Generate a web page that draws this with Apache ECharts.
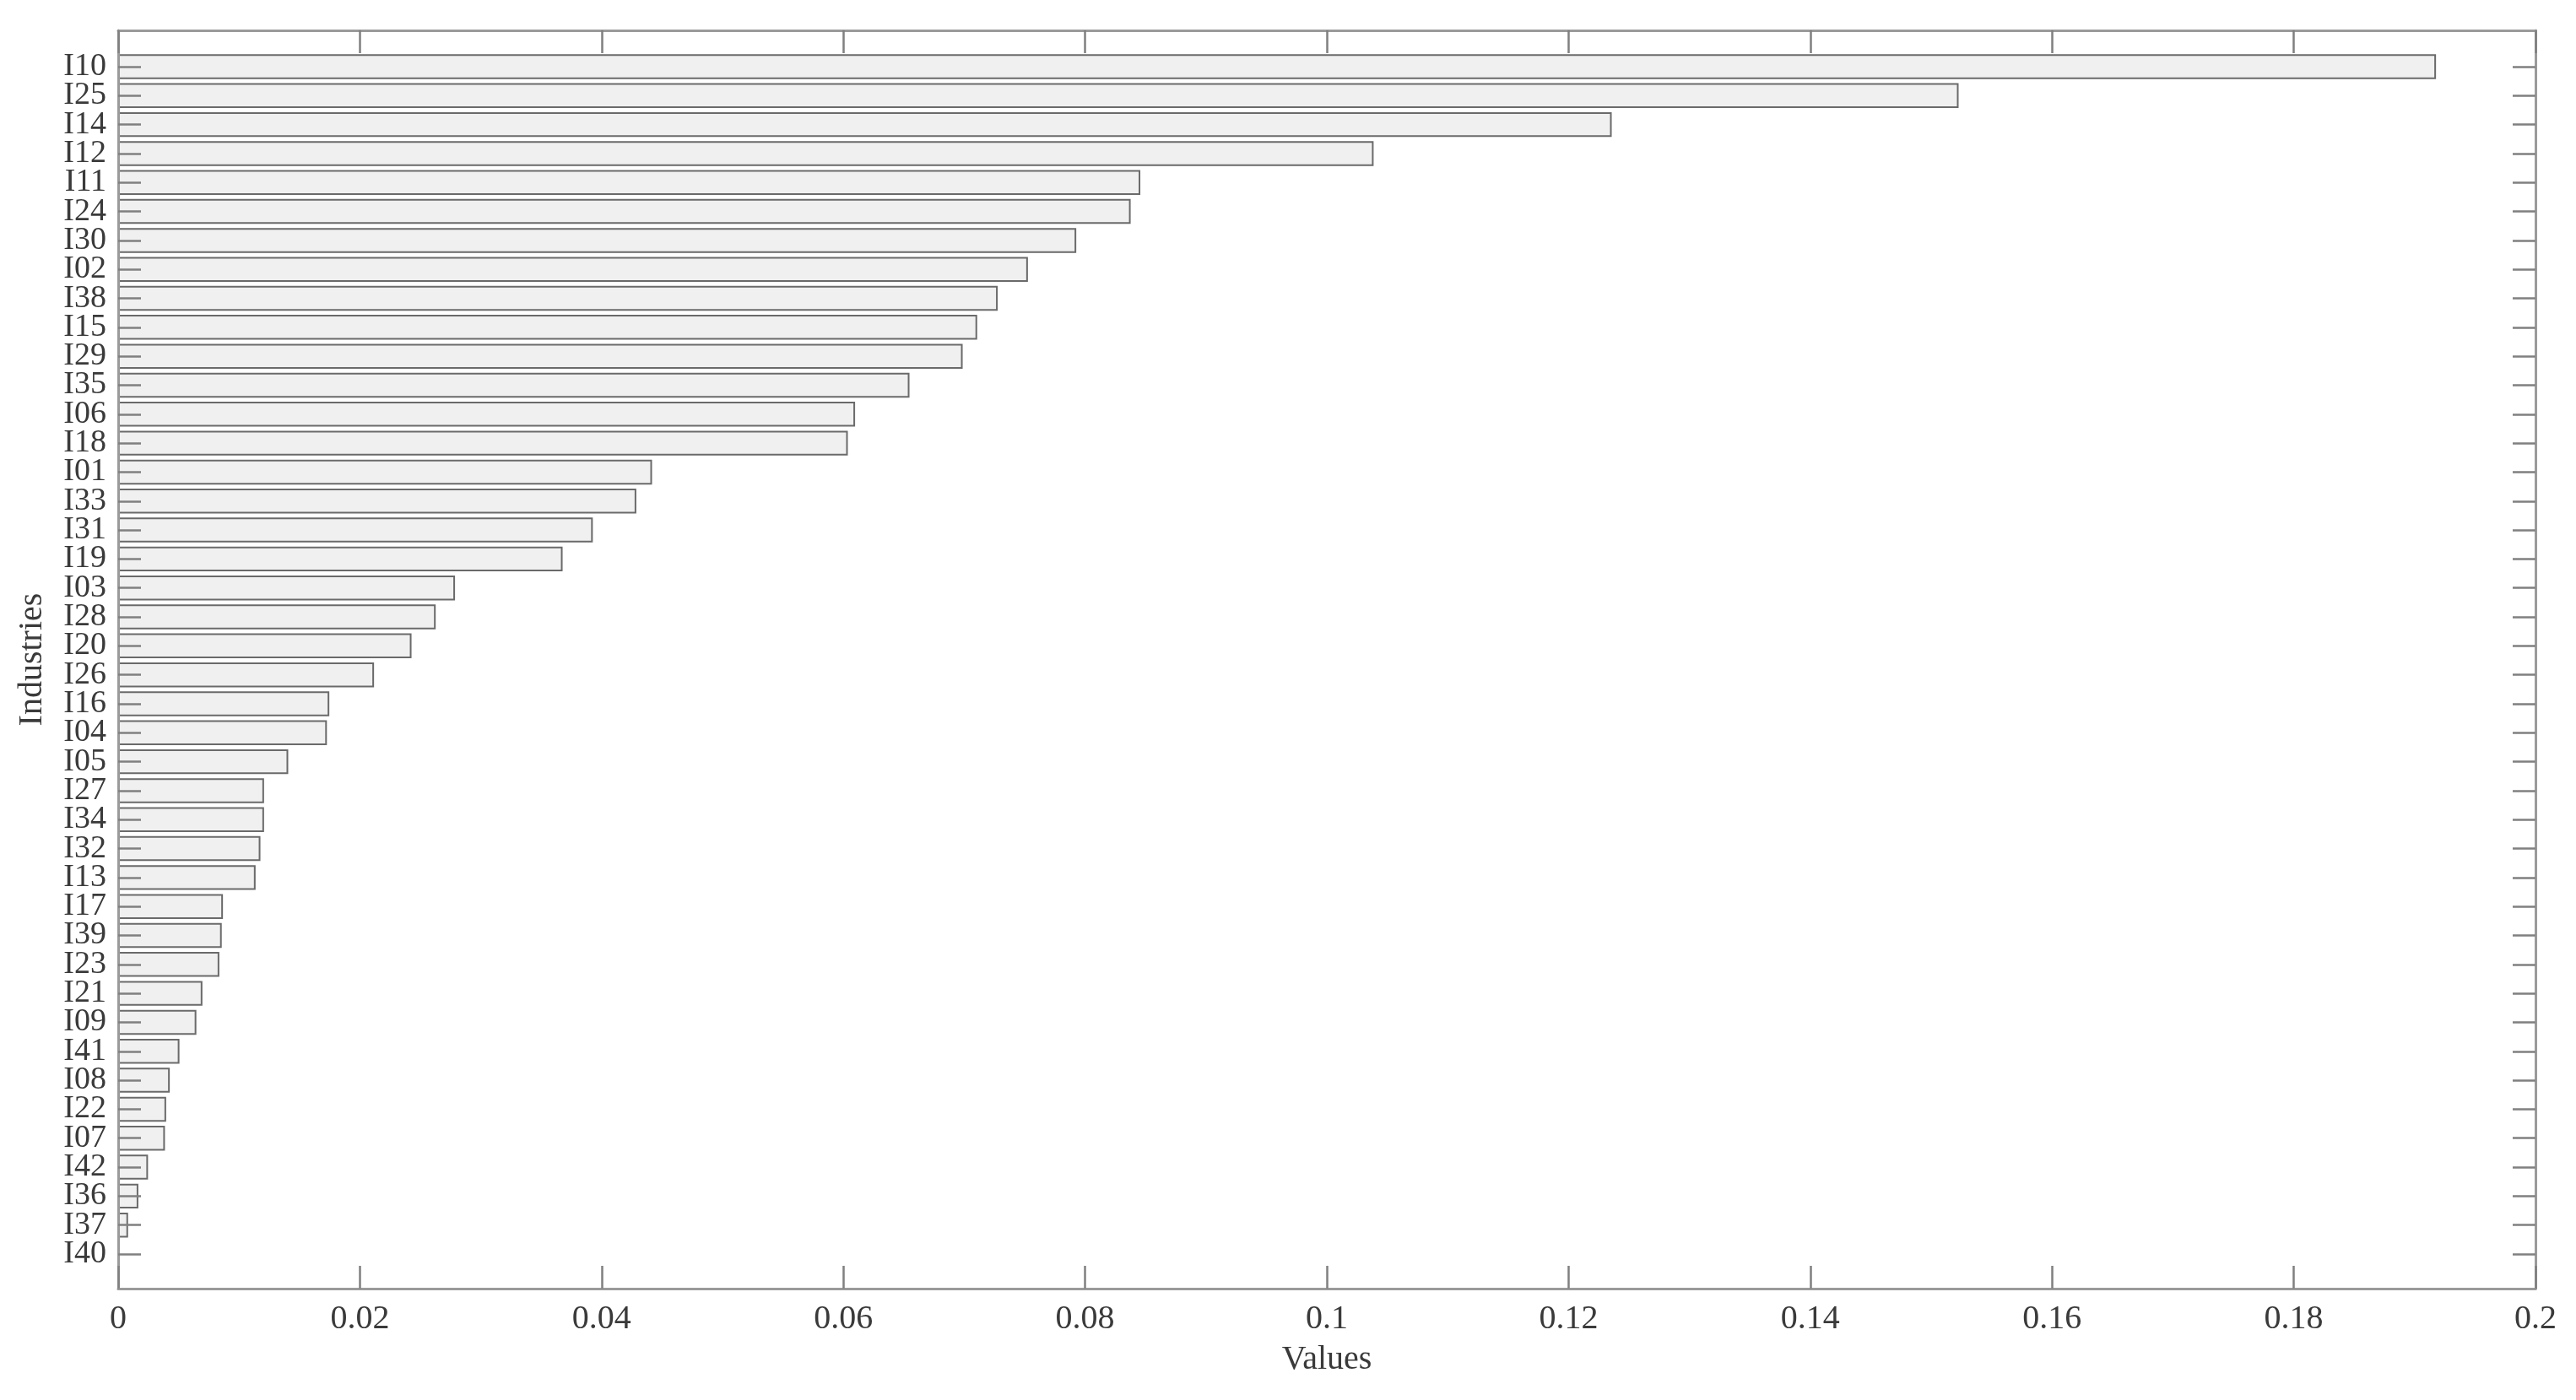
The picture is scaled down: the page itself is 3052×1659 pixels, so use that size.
<!DOCTYPE html>
<html>
<head>
<meta charset="utf-8">
<title>Industries</title>
<script src="https://cdn.jsdelivr.net/npm/echarts@6/dist/echarts.min.js"></script>
<style>
  html, body { margin: 0; padding: 0; background: #fff; }
  #chart { width: 3052px; height: 1659px; }
</style>
</head>
<body>
<div id="chart"></div>
<script>
// industries, top to bottom
const industries = ['I10', 'I25', 'I14', 'I12', 'I11', 'I24', 'I30', 'I02', 'I38', 'I15',
  'I29', 'I35', 'I06', 'I18', 'I01', 'I33', 'I31', 'I19', 'I03', 'I28',
  'I20', 'I26', 'I16', 'I04', 'I05', 'I27', 'I34', 'I32', 'I13', 'I17',
  'I39', 'I23', 'I21', 'I09', 'I41', 'I08', 'I22', 'I07', 'I42', 'I36',
  'I37', 'I40']
const values = [0.1917, 0.1522, 0.1235, 0.1038, 0.0845, 0.0837, 0.0792, 0.0752, 0.0727, 0.0710,
  0.0698, 0.0654, 0.0609, 0.0603, 0.0441, 0.0428, 0.0392, 0.0367, 0.0278, 0.0262,
  0.0242, 0.0211, 0.0174, 0.0172, 0.0140, 0.0120, 0.0120, 0.0117, 0.0113, 0.0086,
  0.0085, 0.0083, 0.0069, 0.0064, 0.0050, 0.0042, 0.0039, 0.0038, 0.0024, 0.0016,
  0.00075, 0]
const xTicks = [0, 0.02, 0.04, 0.06, 0.08, 0.1, 0.12, 0.14, 0.16, 0.18, 0.2]

const font = 'Liberation Serif'
const textColor = '#3a3a3a'
const lineColor = '#9a9a9a'
const tickColor = '#808080'
const idx = industries.map((_, i) => i)
// labels sit closer than their font size, so they are split over two stacked axes
const evenIdx = idx.filter(i => i % 2 === 0)
const oddIdx = idx.filter(i => i % 2 === 1)

const chart = echarts.init(document.getElementById('chart'))

const xBase = {
  type: 'value',
  min: 0,
  max: 0.2,
  interval: 0.02,
  splitLine: { show: false },
  axisLine: { show: true, onZero: false, lineStyle: { color: lineColor, width: 3 } },
  axisTick: { show: true, inside: true, length: 27, customValues: xTicks, lineStyle: { color: tickColor, width: 2.5 } },
  z: 5
}
const yBase = {
  type: 'value',
  inverse: true,
  min: -1.253,
  max: 42.195,
  splitLine: { show: false },
  axisLine: { show: true, onZero: false, lineStyle: { color: lineColor, width: 3 } },
  axisTick: { show: true, inside: true, length: 27, customValues: idx, lineStyle: { color: tickColor, width: 2.5 } },
  z: 5
}
const yLabel = vals => ({
  margin: 14,
  fontFamily: font,
  fontSize: 38,
  color: textColor,
  showMinLabel: true,
  showMaxLabel: true,
  hideOverlap: false,
  customValues: vals,
  formatter: v => industries[Math.round(v)] || ''
})

chart.setOption({
  animation: false,
  backgroundColor: '#fff',
  grid: { left: 140, right: 48, top: 36, bottom: 132, containLabel: false, outerBoundsMode: 'none' },
  xAxis: [
    Object.assign({}, xBase, {
      position: 'bottom',
      name: 'Values',
      nameLocation: 'middle',
      nameGap: 64,
      nameTextStyle: { fontFamily: font, fontSize: 40, color: textColor },
      axisLabel: {
        margin: 16,
        fontFamily: font,
        fontSize: 40,
        color: textColor,
        showMinLabel: true,
        showMaxLabel: true,
        hideOverlap: false,
        customValues: xTicks,
        formatter: v => String(Math.round(v * 100) / 100)
      }
    }),
    Object.assign({}, xBase, { position: 'top', axisLabel: { show: false } })
  ],
  yAxis: [
    Object.assign({}, yBase, {
      position: 'left',
      name: 'Industries',
      nameLocation: 'middle',
      nameGap: 82,
      nameTextStyle: { fontFamily: font, fontSize: 40, color: textColor },
      axisLabel: yLabel(evenIdx)
    }),
    Object.assign({}, yBase, { position: 'right', axisLabel: { show: false } }),
    Object.assign({}, yBase, {
      position: 'left',
      offset: 0,
      axisLine: { show: false },
      axisTick: { show: false },
      axisLabel: yLabel(oddIdx)
    })
  ],
  series: [{
    type: 'custom',
    xAxisIndex: 0,
    yAxisIndex: 0,
    z: 2,
    data: values.map((v, i) => [v, i]),
    renderItem: (params, api) => {
      const v = api.value(0)
      if (!v) return null
      const i = api.value(1)
      const start = api.coord([0, i])
      const end = api.coord([v, i])
      const h = api.size([0, 0.8])[1]
      return {
        type: 'rect',
        shape: { x: start[0], y: start[1] - h / 2, width: end[0] - start[0], height: h },
        style: { fill: '#f0f0f0', stroke: '#6a6a6a', lineWidth: 2 }
      }
    }
  }]
})
</script>
</body>
</html>
